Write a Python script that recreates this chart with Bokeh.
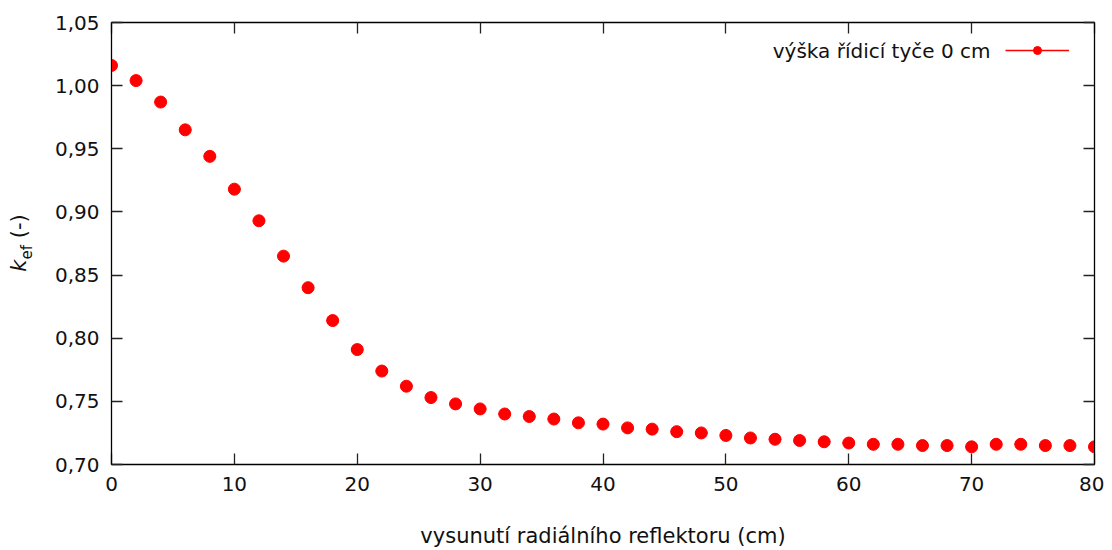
from bokeh.plotting import figure
from bokeh.layouts import row
from bokeh.models import (Range1d, LinearAxis, FixedTicker, CustomJSTickFormatter,
                          Label, Legend, LegendItem, ColumnDataSource, Div)
from bokeh.embed import file_html
from bokeh.resources import INLINE

# ---- data ----
x_cm = [0, 2, 4, 6, 8, 10, 12, 14, 16, 18, 20, 22, 24, 26, 28, 30, 32, 34, 36, 38, 40,
        42, 44, 46, 48, 50, 52, 54, 56, 58, 60, 62, 64, 66, 68, 70, 72, 74, 76, 78, 80]
k_ef = [1.016, 1.004, 0.987, 0.965, 0.944, 0.918, 0.893, 0.865, 0.840, 0.814, 0.791,
        0.774, 0.762, 0.753, 0.748, 0.744, 0.740, 0.738, 0.736, 0.733, 0.732,
        0.729, 0.728, 0.726, 0.725, 0.723, 0.721, 0.720, 0.719, 0.718, 0.717,
        0.716, 0.716, 0.715, 0.715, 0.714, 0.716, 0.716, 0.715, 0.715, 0.714]
x_err = [0.5] * len(x_cm)
series_label = "výška řídicí tyče 0 cm"
x_title = "vysunutí radiálního reflektoru (cm)"
x_ticks = [0, 10, 20, 30, 40, 50, 60, 70, 80]
y_ticks = [0.70, 0.75, 0.80, 0.85, 0.90, 0.95, 1.00, 1.05]

FONT = "DejaVu Sans"
RED = "#ff0000"
TICK_FS = "20px"
DIV_W = 50

src = ColumnDataSource(dict(
    x=x_cm, y=k_ef,
    x0=[a - e for a, e in zip(x_cm, x_err)],
    x1=[a + e for a, e in zip(x_cm, x_err)],
))

p = figure(width=1104 - DIV_W, height=550, output_backend="svg", toolbar_location=None,
           x_range=Range1d(0, 80), y_range=Range1d(0.70, 1.05),
           x_axis_location=None, y_axis_location=None,
           min_border_left=111 - DIV_W, min_border_right=10,
           min_border_top=22, min_border_bottom=86, margin=0)
p.xgrid.visible = False
p.ygrid.visible = False
p.outline_line_color = "black"
p.outline_line_width = 1.3
p.background_fill_color = "white"
p.border_fill_color = "white"

def style_axis(ax, show_labels):
    ax.major_tick_in = 11
    ax.major_tick_out = 0
    ax.minor_tick_line_color = None
    ax.major_tick_line_color = "#222222"
    ax.major_tick_line_width = 1.3
    ax.axis_line_color = "black"
    ax.major_label_text_font = FONT
    if show_labels:
        ax.major_label_text_font_size = TICK_FS
        ax.major_label_text_color = "#111111"
    else:
        ax.major_label_text_font_size = "1px"
        ax.major_label_text_color = None
        ax.major_label_standoff = 0

xfmt = CustomJSTickFormatter(code="return tick.toFixed(0);")
yfmt = CustomJSTickFormatter(code="return tick.toFixed(2).replace('.', ',');")

xb = LinearAxis(ticker=FixedTicker(ticks=x_ticks), formatter=xfmt)
style_axis(xb, True)
xb.major_label_standoff = 12
xb.axis_label = x_title
xb.axis_label_text_font = FONT
xb.axis_label_text_font_style = "normal"
xb.axis_label_text_font_size = "21px"
xb.axis_label_text_color = "#111111"
xb.axis_label_standoff = 30
p.add_layout(xb, "below")

xt = LinearAxis(ticker=FixedTicker(ticks=x_ticks), formatter=xfmt)
style_axis(xt, False)
p.add_layout(xt, "above")

yl = LinearAxis(ticker=FixedTicker(ticks=y_ticks), formatter=yfmt)
style_axis(yl, True)
yl.major_label_standoff = 12
p.add_layout(yl, "left")

yr = LinearAxis(ticker=FixedTicker(ticks=y_ticks), formatter=yfmt)
style_axis(yr, False)
p.add_layout(yr, "right")

# horizontal error bars and points
seg = p.segment(x0="x0", x1="x1", y0="y", y1="y", source=src, line_color=RED, line_width=1.3)
sc = p.scatter(x="x", y="y", source=src, size=12, marker="circle",
               fill_color=RED, line_color=RED)

# legend: glyph only, its text drawn as a label to its left (gnuplot style)
leg = Legend(items=[LegendItem(label=" ", renderers=[seg, sc])],
             location=(894, 404), glyph_width=64, glyph_height=20,
             label_standoff=0, label_width=0, padding=0, margin=0, spacing=0,
             border_line_alpha=0, background_fill_alpha=0,
             label_text_font_size="1px")
p.add_layout(leg, "center")

p.add_layout(Label(x=879, y=414, x_units="screen", y_units="screen", text=series_label,
                   text_font=FONT, text_font_size=TICK_FS, text_align="right",
                   text_baseline="middle", text_color="#111111"))

# y axis title k_ef (-) as rotated HTML text
ytitle = Div(width=DIV_W, height=550, margin=0, text=(
    '<div style="position:relative;width:%dpx;height:550px;">'
    '<div style="position:absolute;left:22px;top:243px;'
    'transform:translate(-50%%,-50%%) rotate(-90deg);white-space:nowrap;'
    "font-family:'DejaVu Sans';font-size:21px;color:#111111;line-height:1;\">"
    '<i>k</i><sub style="font-size:15px;">ef</sub> (-)</div></div>' % DIV_W))

layout = row(ytitle, p, spacing=0)
open("out.html", "w").write(file_html(layout, INLINE))
